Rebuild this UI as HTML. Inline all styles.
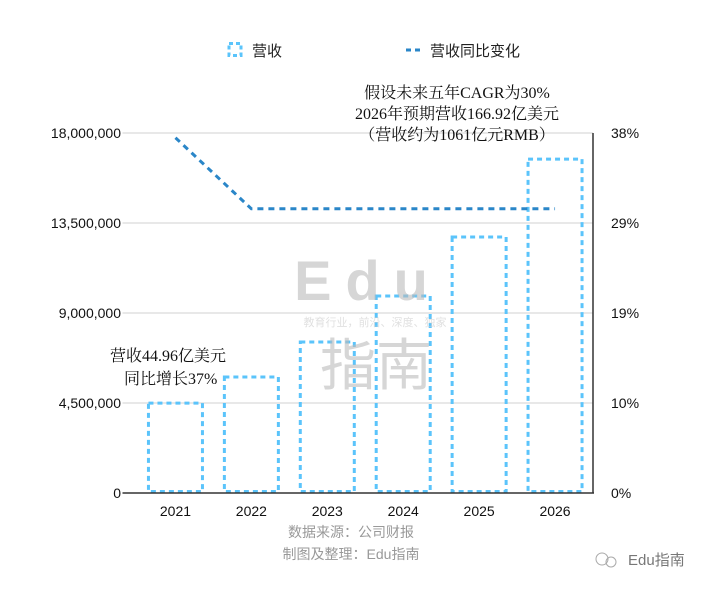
<!DOCTYPE html>
<html><head><meta charset="utf-8">
<style>
html,body{margin:0;padding:0;background:#fff;width:716px;height:594px;overflow:hidden}
svg{display:block;font-family:"Liberation Sans","Noto Sans CJK SC",sans-serif}
.serif{font-family:"Liberation Serif","Noto Serif CJK SC",serif}
</style></head>
<body>
<svg id="chart" width="716" height="594" viewBox="0 0 716 594">
  <g>
    <g>
      <rect x="229" y="43.5" width="12" height="12" fill="none" stroke="#5bc4fb" stroke-width="3" stroke-dasharray="4,3"/>
      <text x="252" y="56" font-size="15" fill="#222">营收</text>
    </g>
    <g>
      <line x1="406" y1="50" x2="422" y2="50" stroke="#2a86c8" stroke-width="3" stroke-dasharray="5,4"/>
      <text x="430" y="56" font-size="15" fill="#222">营收同比变化</text>
    </g>
  </g>
  <g id="grid"></g>
  <g id="bars"></g>
  <g id="line"></g>
  <g id="axes"></g>
  <g opacity="0.6">
    <text x="368" y="300" font-size="56" fill="#bbb" text-anchor="middle" letter-spacing="14" font-weight="bold">Edu</text>
    <text x="375" y="326" font-size="11" fill="#ccc" text-anchor="middle">教育行业，前沿、深度、独家</text>
    <text x="376" y="385" font-size="56" fill="#bbb" text-anchor="middle">指南</text>
  </g>
  <g class="serif">
    <text x="457" y="98" font-size="16" fill="#111" text-anchor="middle">假设未来五年CAGR为30%</text>
    <text x="457" y="119" font-size="16" fill="#111" text-anchor="middle">2026年预期营收166.92亿美元</text>
    <text x="457" y="140" font-size="16" fill="#111" text-anchor="middle">（营收约为1061亿元RMB）</text>
  </g>
  <g class="serif">
    <text x="110" y="361" font-size="16" fill="#111">营收44.96亿美元</text>
    <text x="124" y="384" font-size="16" fill="#111">同比增长37%</text>
  </g>
  <g>
    <text x="351" y="537" font-size="14" fill="#999" text-anchor="middle">数据来源：公司财报</text>
    <text x="351" y="559" font-size="14" fill="#999" text-anchor="middle">制图及整理：Edu指南</text>
  </g>
  <g>
    <circle cx="602" cy="559" r="6" fill="none" stroke="#aaa" stroke-width="1"/>
    <circle cx="611" cy="562" r="5" fill="none" stroke="#aaa" stroke-width="1"/>
    <text x="628" y="565" font-size="15" fill="#777">Edu指南</text>
  </g>
</svg>
<script>
const categories = ["2021","2022","2023","2024","2025","2026"];
const revenue = [4496000, 5800000, 7550000, 9850000, 12800000, 16692000];
const yoy = [37.5, 30, 30, 30, 30, 30];
const leftTicks = [0, 4500000, 9000000, 13500000, 18000000];
const leftTickLabels = ["0","4,500,000","9,000,000","13,500,000","18,000,000"];
const rightTicks = [0, 9.5, 19, 28.5, 38];
const rightTickLabels = ["0%","10%","19%","29%","38%"];

const NS = "http://www.w3.org/2000/svg";
const X0 = 137.5, X1 = 593, Y0 = 493, Y1 = 133;
const band = (X1 - X0) / categories.length;
const xc = i => X0 + band * (i + 0.5);
const yL = v => Y0 - (v / 18000000) * (Y0 - Y1);
const yR = v => Y0 - (v / 38) * (Y0 - Y1);
function mk(tag, attrs, parent, txt) {
  const e = document.createElementNS(NS, tag);
  for (const k in attrs) e.setAttribute(k, attrs[k]);
  if (txt !== undefined) e.textContent = txt;
  parent.appendChild(e);
  return e;
}
const grid = document.getElementById("grid");
const axes = document.getElementById("axes");
leftTicks.forEach((t, i) => {
  if (i > 0) {
    const g = mk("line", {x1: X0 - 15, x2: X1, y1: yL(t), y2: yL(t), stroke: "#d0d0d0", "stroke-width": 1}, grid);
    
    
  }
  const l = mk("text", {x: 121, y: yL(t) + 5, "font-size": 14, fill: "#111", "text-anchor": "end"}, axes, leftTickLabels[i]);
  
  
});
rightTicks.forEach((t, i) => {
  const l = mk("text", {x: 611, y: yR(t) + 5, "font-size": 14, fill: "#111"}, axes, rightTickLabels[i]);
  
  
});
const xa = mk("line", {x1: X0 - 15, x2: X1 + 1, y1: Y0, y2: Y0, stroke: "#333", "stroke-width": 1.5}, axes);


const ra = mk("line", {x1: X1, x2: X1, y1: Y1, y2: Y0, stroke: "#333", "stroke-width": 1.5}, axes);


const bars = document.getElementById("bars");
const bw = 54;
categories.forEach((c, i) => {
  const top = yL(revenue[i]);
  const r = mk("rect", {x: xc(i) - bw / 2, y: top, width: bw, height: Y0 - 1.5 - top, fill: "none", stroke: "#5bc4fb", "stroke-width": 3, "stroke-dasharray": "5,4"}, bars);
  
  
  const t = mk("text", {x: xc(i), y: 516, "font-size": 14, fill: "#111", "text-anchor": "middle"}, axes, c);
  
  
});
const line = document.getElementById("line");
const pts = yoy.map((v, i) => xc(i) + "," + yR(v)).join(" ");
const pl = mk("polyline", {points: pts, fill: "none", stroke: "#2a86c8", "stroke-width": 3, "stroke-dasharray": "6,5"}, line);


</script>
</body></html>
